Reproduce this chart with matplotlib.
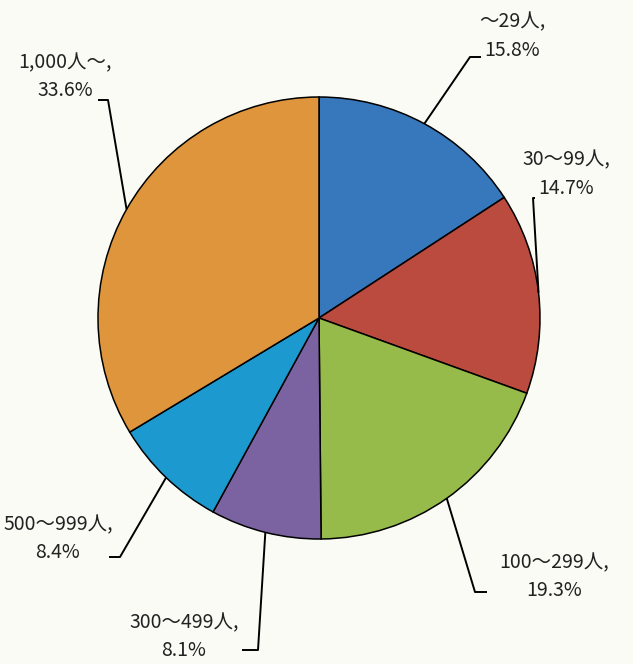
import matplotlib
matplotlib.use("Agg")
import matplotlib.pyplot as plt
import numpy as np

# 従業員規模別の割合
categories = ['～29人', '30～99人', '100～299人', '300～499人', '500～999人', '1,000人～']
shares = [15.8, 14.7, 19.3, 8.1, 8.4, 33.6]
colors = ['#3778bd', '#bb4a3f', '#96bb4a', '#7b62a1', '#1c9ad0', '#df953c']

plt.rcParams['font.family'] = ['Noto Sans CJK JP', 'DejaVu Sans']

W, H = 633, 664
fig = plt.figure(figsize=(W / 100, H / 100), dpi=100)
fig.patch.set_facecolor('#fbfbf5')
ax = fig.add_axes([0, 0, 1, 1])
ax.set_facecolor('#fbfbf5')

cx, cy, r = 319, H - 318, 221
wedges, _ = ax.pie(shares, colors=colors, startangle=90, counterclock=False,
                   center=(cx, cy), radius=r,
                   wedgeprops=dict(edgecolor='black', linewidth=1.1))

# ラベル位置 (ピクセル) と引き出し線の折れ点
label_pos = [(512, 36), (566, 174), (554, 577), (184, 637), (58, 539), (65, 77)]
elbows = [((470, 57), (481, 57)),
          ((533, 198), (535, 198)),
          ((475, 592), (487, 592)),
          ((258, 650), (242, 650)),
          ((120, 557), (109, 557)),
          ((108, 100), (98, 100))]

for w, cat, val, (lx, ly), (e1, e2) in zip(wedges, categories, shares, label_pos, elbows):
    ang = np.deg2rad((w.theta1 + w.theta2) / 2)
    sx, sy = cx + r * np.cos(ang), cy + r * np.sin(ang)
    ax.plot([sx, e1[0], e2[0]], [sy, H - e1[1], H - e2[1]], color='black', lw=1.4,
            solid_capstyle='butt')
    ax.text(lx, H - ly + 14, cat + ',', ha='center', va='center', fontsize=14, color='#222222')
    ax.text(lx, H - ly - 14, f'{val}%', ha='center', va='center', fontsize=14, color='#222222')

ax.set_xlim(0, W)
ax.set_ylim(0, H)
ax.set_aspect('equal')
ax.axis('off')

fig.savefig('out.png', dpi=100, facecolor=fig.get_facecolor())
